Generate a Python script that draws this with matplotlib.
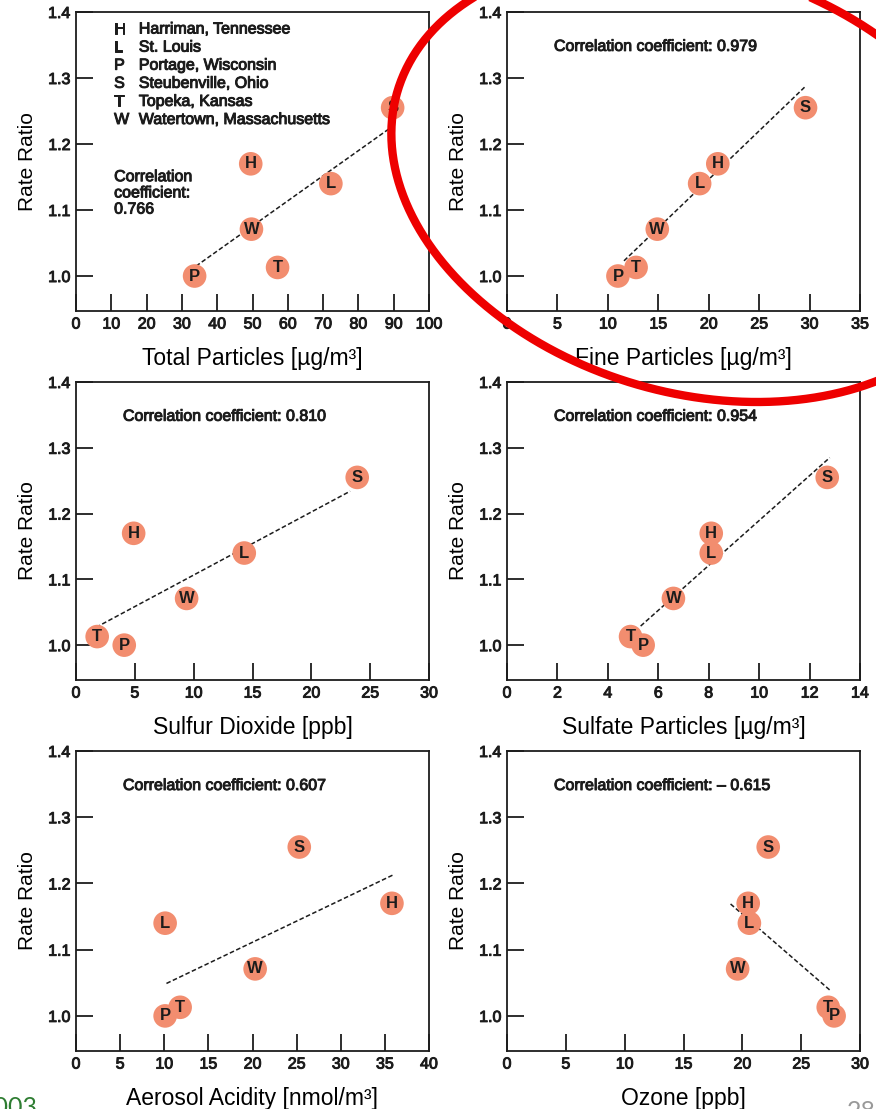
import numpy as np
import matplotlib
matplotlib.use('Agg')
import matplotlib.pyplot as plt
import matplotlib.patheffects as pe
from matplotlib.lines import Line2D

plt.rcParams['font.family'] = ['Liberation Sans', 'DejaVu Sans']

# city codes and their mortality rate ratio (same in every panel)
sites = ['H', 'L', 'P', 'S', 'T', 'W']
rate_ratio = [1.17, 1.14, 1.00, 1.255, 1.013, 1.071]

legend_names = ['Harriman, Tennessee', 'St. Louis', 'Portage, Wisconsin',
                'Steubenville, Ohio', 'Topeka, Kansas', 'Watertown, Massachusetts']

# pollutant levels, order H L P S T W
total_particles = [49.5, 72.2, 33.6, 89.7, 57.1, 49.7]
fine_particles = [20.9, 19.1, 11.0, 29.6, 12.8, 14.9]
sulfur_dioxide = [4.9, 14.3, 4.1, 23.9, 1.8, 9.4]
sulfate_particles = [8.1, 8.1, 5.4, 12.7, 4.9, 6.6]
aerosol_acidity = [35.8, 10.1, 10.1, 25.3, 11.8, 20.3]
ozone = [20.5, 20.6, 27.8, 22.2, 27.3, 19.6]

x_labels = ['Total Particles [µg/m³]', 'Fine Particles [µg/m³]', 'Sulfur Dioxide [ppb]',
            'Sulfate Particles [µg/m³]', 'Aerosol Acidity [nmol/m³]', 'Ozone [ppb]']
x_max = [100, 35, 30, 14, 40, 30]
x_step = [10, 5, 5, 2, 5, 5]
corr = ['0.766', '0.979', '0.810', '0.954', '0.607', '\u2013 0.615']

# dashed fit lines (end points)
fit_x = [[34, 90], [11.6, 29.5], [1.7, 23.3], [5.3, 12.8], [10.25, 35.95], [19.0, 27.5]]
fit_y = [[1.015, 1.228], [1.023, 1.286], [1.027, 1.234], [1.029, 1.285], [1.049, 1.213], [1.169, 1.038]]

y_ticks = [1.0, 1.1, 1.2, 1.3, 1.4]

pollutants = [total_particles, fine_particles, sulfur_dioxide,
              sulfate_particles, aerosol_acidity, ozone]

W, H = 876, 1109
fig = plt.figure(figsize=(W / 100, H / 100), dpi=100)

# axes boxes in pixels: left, top, right, bottom
cols = [(76, 429), (507, 860)]
rows = [(12, 311), (382, 680), (751, 1051)]

ink = '#1c1c1c'
thick = [pe.withStroke(linewidth=0.7, foreground=ink)]
salmon = '#F28D6F'

for i in range(6):
    l, r = cols[i % 2]
    t, b = rows[i // 2]
    ax = fig.add_axes([l / W, 1 - b / H, (r - l) / W, (b - t) / H])
    xs = pollutants[i]

    ax.plot(fit_x[i], fit_y[i], color=ink, lw=1.1, ls=(0, (3, 1.6)), zorder=2)
    ax.scatter(xs, rate_ratio, s=17 ** 2, color=salmon, edgecolors='none', zorder=3)
    for x, y, s in zip(xs, rate_ratio, sites):
        ax.text(x, y, s, ha='center', va='center', fontsize=12, fontweight='bold',
                color=ink, zorder=4)

    ax.set_xlim(0, x_max[i])
    ax.set_ylim(0.947, 1.4)
    ax.set_xticks(np.arange(0, x_max[i] + 1, x_step[i]))
    ax.set_yticks(y_ticks)
    ax.set_yticklabels(['%.1f' % v for v in y_ticks])
    ax.tick_params(direction='in', length=12, width=1.3, labelsize=11.5,
                   colors=ink, pad=4)
    for lab in ax.get_xticklabels() + ax.get_yticklabels():
        lab.set_path_effects(thick)
    for sp in ax.spines.values():
        sp.set_linewidth(1.3)
        sp.set_color(ink)

    ax.set_xlabel(x_labels[i], fontsize=16.5, labelpad=11, color='black')
    ax.set_ylabel('Rate Ratio', fontsize=15, labelpad=8, color='black')

    if i == 0:
        for k, (s, name) in enumerate(zip(sites, legend_names)):
            yy = (b - (29 + 18.1 * k)) / (b - t)
            ax.text(0.108, yy, s, transform=ax.transAxes, fontsize=11.5, va='center',
                    color=ink, path_effects=thick)
            ax.text(0.178, yy, name, transform=ax.transAxes, fontsize=11.5, va='center',
                    color=ink, path_effects=thick)
        ax.text(0.108, 0.395, 'Correlation\ncoefficient:\n' + corr[i], transform=ax.transAxes,
                fontsize=11.5, va='center', linespacing=1.1, color=ink, path_effects=thick)
    else:
        ax.text(0.133, 0.885, 'Correlation coefficient: ' + corr[i], transform=ax.transAxes,
                fontsize=11.5, va='center', color=ink, path_effects=thick)

# red hand-drawn ellipse around the fine particles panel (pixel geometry)
cx, cy, P, Q, m = 694, 180, 296, 222, 0.284
tt = np.linspace(0, 2 * np.pi, 400)
ey = cy + Q * np.sin(tt)
ex = cx + P * np.cos(tt) + m * Q * np.sin(tt)
fig.add_artist(Line2D(ex / W, 1 - ey / H, transform=fig.transFigure, color='#EE0000',
                      lw=6, zorder=10, clip_on=False))

# slide leftovers at the bottom edge
fig.text(38 / W, 1 - 1115 / H, '2003', ha='right', va='baseline', fontsize=18,
         color='#2E7D32', family='Lato')
fig.text(847 / W, 1 - 1119 / H, '28', ha='left', va='baseline', fontsize=18,
         color='#999999', family='Lato')

fig.savefig('out.png', dpi=100)
